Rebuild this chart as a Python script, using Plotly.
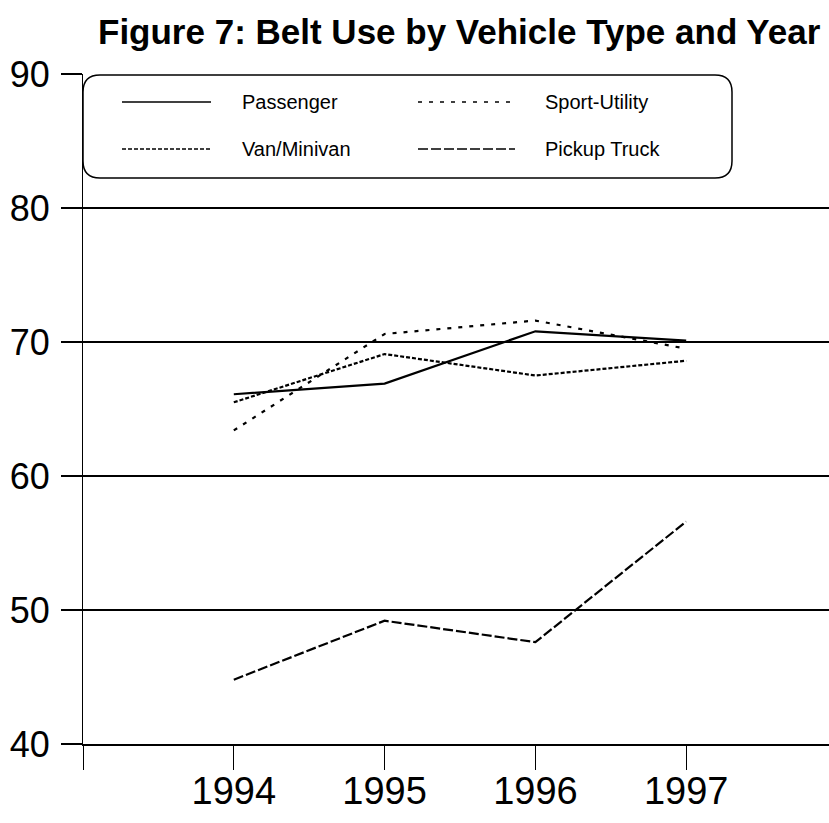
import plotly.graph_objects as go

# ---- data ----
years = [1994, 1995, 1996, 1997]
series_names = ["Passenger", "Sport-Utility", "Van/Minivan", "Pickup Truck"]
passenger = [66.1, 66.9, 70.8, 70.1]
sport_utility = [63.4, 70.6, 71.6, 69.5]
van_minivan = [65.5, 69.1, 67.5, 68.6]
pickup_truck = [44.8, 49.2, 47.6, 56.6]
x_tickvals = [1993, 1994, 1995, 1996, 1997]
x_ticktext = ["", "1994", "1995", "1996", "1997"]
y_tickvals = [40, 50, 60, 70, 80, 90]

OFF = 0  # body margin removed via post_script
W, H = 829, 823
L, R, T = 83, 0, 74
B = H - 744
PW, PH = W - L - R, H - T - B

dashes = {
    "Passenger": "solid",
    "Sport-Utility": "4px,7px",
    "Van/Minivan": "4px,2px",
    "Pickup Truck": "10px,3px",
}
values = {
    "Passenger": passenger,
    "Sport-Utility": sport_utility,
    "Van/Minivan": van_minivan,
    "Pickup Truck": pickup_truck,
}

fig = go.Figure()
for name in series_names:
    fig.add_trace(go.Scatter(
        x=years, y=values[name], mode="lines", name=name,
        line=dict(color="black", width=2.2, dash=dashes[name]),
        showlegend=False,
    ))

def px2paper(px, py):
    fx, fy = px - OFF, py - OFF
    return (fx - L) / PW, (H - B - fy) / PH

# rounded legend box
x0, x1, y0, y1 = 83, 732, 75, 178
r = 17
def P(px, py):
    a, b = px2paper(px, py)
    return f"{a:.5f},{b:.5f}"
path = (f"M {P(x0 + r, y0)} L {P(x1 - r, y0)} Q {P(x1, y0)} {P(x1, y0 + r)} "
        f"L {P(x1, y1 - r)} Q {P(x1, y1)} {P(x1 - r, y1)} "
        f"L {P(x0 + r, y1)} Q {P(x0, y1)} {P(x0, y1 - r)} "
        f"L {P(x0, y0 + r)} Q {P(x0, y0)} {P(x0 + r, y0)} Z")
fig.add_shape(type="path", path=path, xref="paper", yref="paper",
              line=dict(color="black", width=1.5), fillcolor="white", layer="above")

legend_pos = {
    "Passenger": (122, 211, 240, 102),
    "Sport-Utility": (418, 512, 543, 102),
    "Van/Minivan": (122, 211, 240, 149),
    "Pickup Truck": (418, 515, 543, 149),
}
for name in series_names:
    lx0, lx1, tx, ly = legend_pos[name]
    a0, b0 = px2paper(lx0, ly)
    a1, _ = px2paper(lx1, ly)
    fig.add_shape(type="line", x0=a0, x1=a1, y0=b0, y1=b0, xref="paper", yref="paper",
                  line=dict(color="black", width=1.5, dash=dashes[name]), layer="above")
    at, _ = px2paper(tx, ly)
    fig.add_annotation(text=name, x=at, y=b0, xref="paper", yref="paper",
                       xanchor="left", yanchor="middle", showarrow=False,
                       font=dict(family="Liberation Sans, Arial, sans-serif", size=20, color="black"))

tx_, ty_ = px2paper(459, 31)
fig.add_annotation(text="<b>Figure 7: Belt Use by Vehicle Type and Year</b>",
                   x=tx_, y=ty_, xref="paper", yref="paper",
                   xanchor="center", yanchor="middle", showarrow=False,
                   font=dict(family="Liberation Sans, Arial, sans-serif",
                             size=35, color="black"))

fig.update_layout(
    width=W, height=H,
    margin=dict(l=L, r=R, t=T, b=B, pad=0),
    paper_bgcolor="white", plot_bgcolor="white",
    font=dict(family="Liberation Sans, Arial, sans-serif", color="black"),
    xaxis=dict(range=[1993, 1997.947], tickvals=x_tickvals, ticktext=x_ticktext,
               showgrid=False, zeroline=False, showline=True, linecolor="black", linewidth=1.5,
               ticks="outside", ticklen=24, tickwidth=1.2, tickcolor="black",
               ticklabelstandoff=-11,
               tickfont=dict(size=38, color="black")),
    yaxis=dict(range=[40, 90], tickvals=y_tickvals,
               showgrid=True, gridcolor="black", gridwidth=1.5, zeroline=False,
               showline=True, linecolor="black", linewidth=1.2,
               ticks="outside", ticklen=21, tickwidth=1.5, tickcolor="black",
               ticklabelstandoff=4,
               tickfont=dict(size=36, color="black")),
)

fig.write_html("out.html", config={"displayModeBar": False},
               post_script="document.body.style.margin='0px';document.body.style.overflow='hidden';")
